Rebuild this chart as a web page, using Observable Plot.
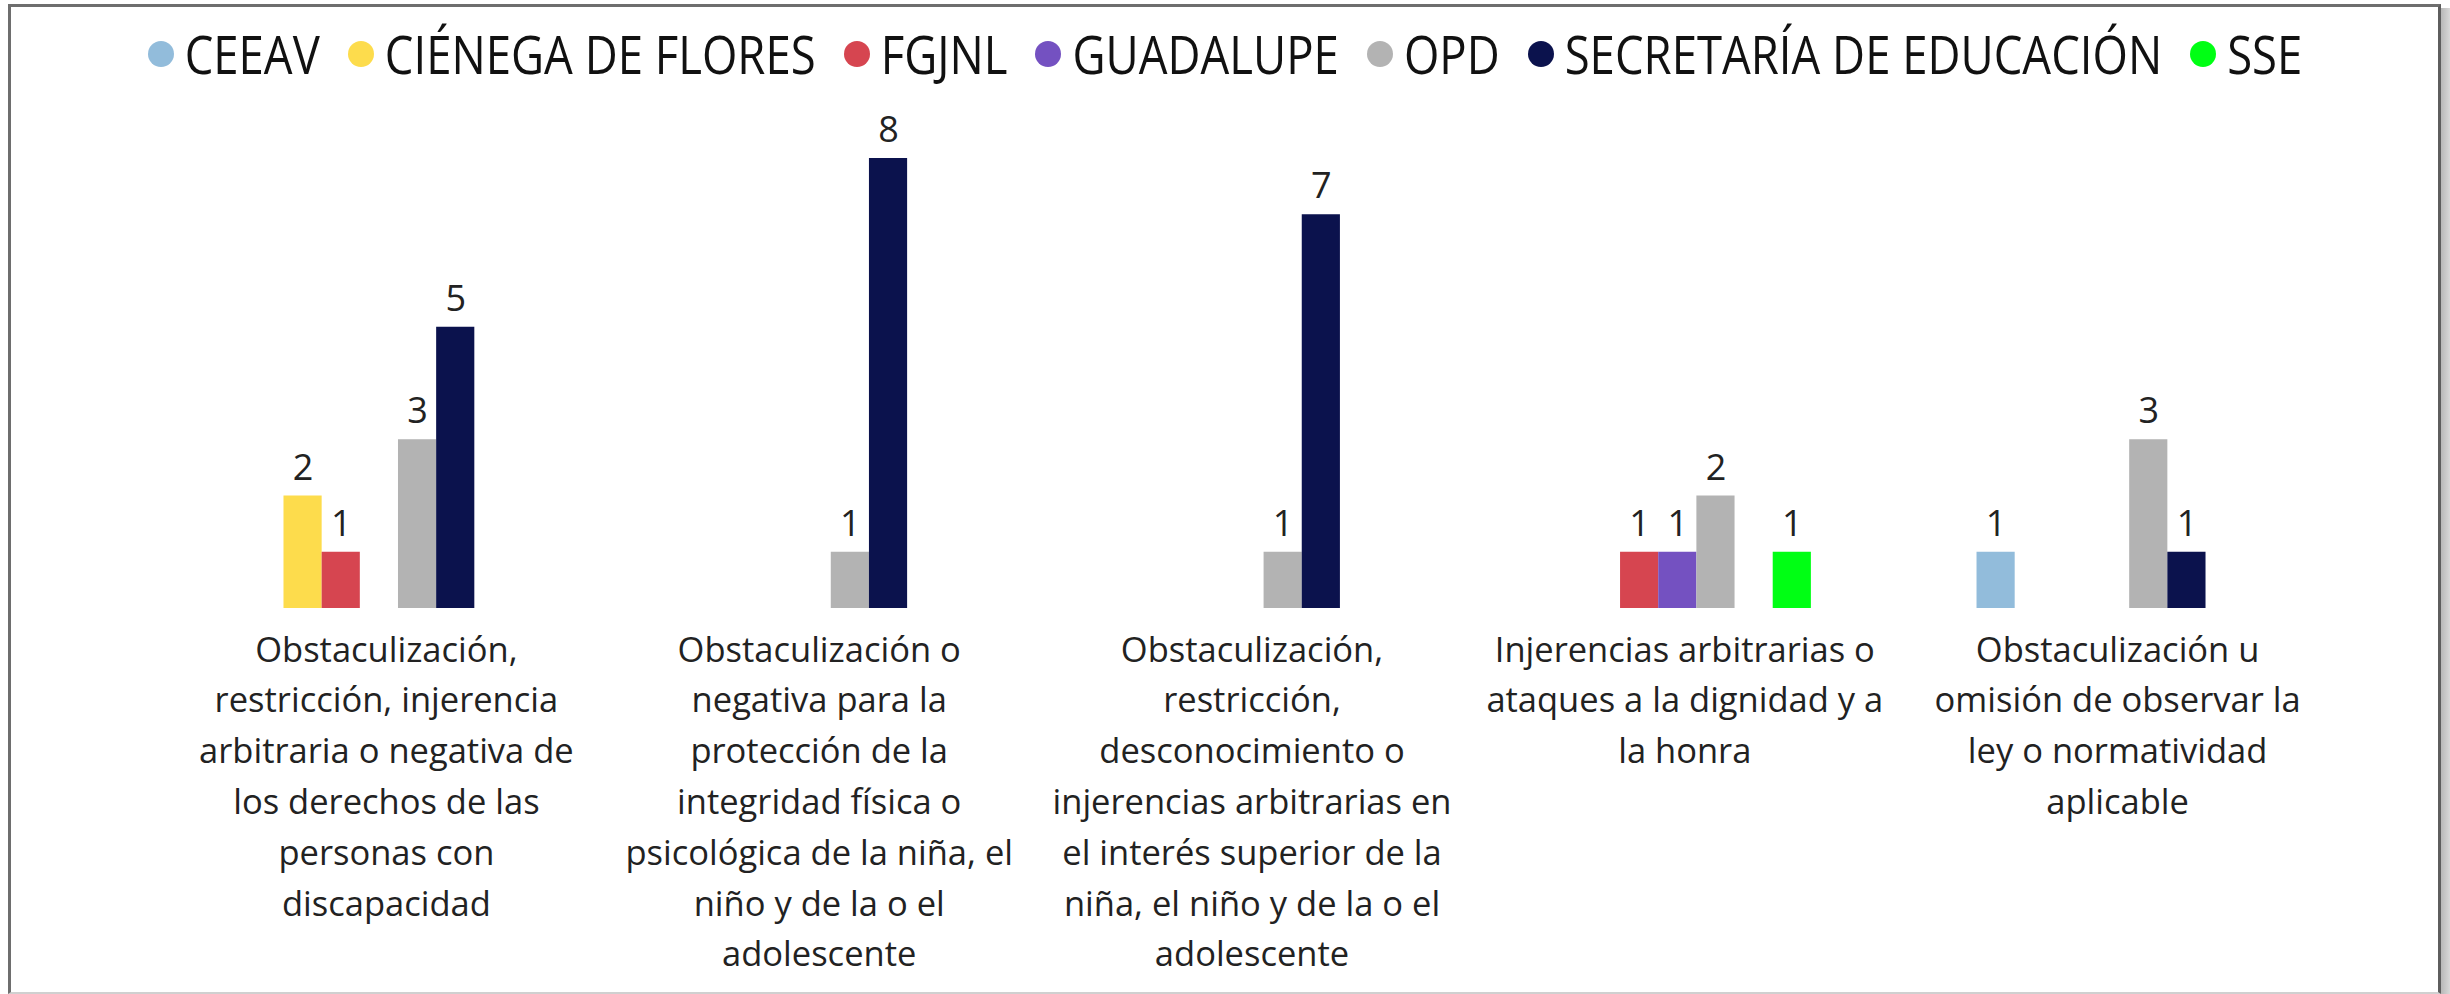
<!DOCTYPE html>
<html>
<head>
<meta charset="utf-8">
<script src="https://cdn.jsdelivr.net/npm/d3@7"></script>
<script src="https://cdn.jsdelivr.net/npm/@observablehq/plot@0.6"></script>
<style>
  html, body { margin: 0; padding: 0; background: #fff; }
  body { width: 2450px; height: 994px; position: relative; overflow: hidden; font-family: "Open Sans", sans-serif; }
  #legend { position: absolute; left: 0; top: 4px; width: 2450px; height: 100px; display: flex; justify-content: center; align-items: center; }
  .item { display: flex; align-items: center; margin: 0 14px; }
  .sw { width: 26px; height: 26px; border-radius: 50%; margin-right: 11px; }
  .lab { font-size: 45.5px; color: #111; transform: scaleY(1.15); line-height: 1; white-space: nowrap; }
  #chart { position: absolute; left: 0; top: 100px; }
  #frame { position: absolute; left: 8px; top: 4px; width: 2427px; height: 985px; border-left: 3px solid #6e6e6e; border-top: 3px solid #6e6e6e; border-right: 3px solid #5e5e5e; border-bottom: 2px solid #d0d0d0; pointer-events: none; }
  #shadow { position: absolute; left: 2441px; top: 8px; width: 9px; height: 986px; background: linear-gradient(to right, #b8b8b8, #d8d8d8); }
</style>
</head>
<body>
<div id="legend"></div>
<div id="chart"></div>
<div id="frame"></div>
<div id="shadow"></div>
<script>
// Categories (x groups) and their wrapped tick labels
const categories = [
  "Obstaculización, restricción, injerencia arbitraria o negativa de los derechos de las personas con discapacidad",
  "Obstaculización o negativa para la protección de la integridad física o psicológica de la niña, el niño y de la o el adolescente",
  "Obstaculización, restricción, desconocimiento o injerencias arbitrarias en el interés superior de la niña, el niño y de la o el adolescente",
  "Injerencias arbitrarias o ataques a la dignidad y a la honra",
  "Obstaculización u omisión de observar la ley o normatividad aplicable"
];
const categoryLabels = [
  "Obstaculización,\nrestricción, injerencia\narbitraria o negativa de\nlos derechos de las\npersonas con\ndiscapacidad",
  "Obstaculización o\nnegativa para la\nprotección de la\nintegridad física o\npsicológica de la niña, el\nniño y de la o el\nadolescente",
  "Obstaculización,\nrestricción,\ndesconocimiento o\ninjerencias arbitrarias en\nel interés superior de la\nniña, el niño y de la o el\nadolescente",
  "Injerencias arbitrarias o\nataques a la dignidad y a\nla honra",
  "Obstaculización u\nomisión de observar la\nley o normatividad\naplicable"
];

// Series
const seriesNames = ["CEEAV", "CIÉNEGA DE FLORES", "FGJNL", "GUADALUPE", "OPD", "SECRETARÍA DE EDUCACIÓN", "SSE"];
const seriesColors = ["#92bcdb", "#fddc4c", "#d64550", "#7451c1", "#b3b3b3", "#0b124d", "#00ff14"];

// Values per series, one per category (null = no bar)
const ceeav      = [null, null, null, null, 1];
const cienega    = [2, null, null, null, null];
const fgjnl      = [1, null, null, 1, null];
const guadalupe  = [null, null, null, 1, null];
const opd        = [3, 1, 1, 2, 3];
const secretaria = [5, 8, 7, null, 1];
const sse        = [null, null, null, 1, null];

const seriesValues = [ceeav, cienega, fgjnl, guadalupe, opd, secretaria, sse];

const rows = [];
seriesNames.forEach((s, si) => {
  seriesValues[si].forEach((v, ci) => {
    if (v != null) rows.push({cat: categories[ci], series: s, value: v});
  });
});
const labelRows = categories.map((c, i) => ({cat: c, label: categoryLabels[i]}));

// Legend
const legend = document.getElementById("legend");
seriesNames.forEach((s, i) => {
  const it = document.createElement("div");
  it.className = "item";
  const sw = document.createElement("div");
  sw.className = "sw";
  sw.style.background = seriesColors[i];
  const lab = document.createElement("span");
  lab.className = "lab";
  lab.textContent = s;
  it.appendChild(sw); it.appendChild(lab);
  legend.appendChild(it);
});

const chart = Plot.plot({
  width: 2450,
  height: 894,
  marginLeft: 162.5,
  marginRight: 123.5,
  marginTop: 58,
  marginBottom: 386,
  style: {fontFamily: "'Open Sans', sans-serif", background: "transparent"},
  fx: {domain: categories, padding: 0, axis: null, round: false},
  x: {domain: seriesNames, paddingInner: 0, paddingOuter: 2.17, axis: null, round: false},
  y: {domain: [0, 8], axis: null},
  color: {domain: seriesNames, range: seriesColors},
  marks: [
    Plot.barY(rows, {fx: "cat", x: "series", y: "value", fill: "series", inset: 0}),
    Plot.text(rows, {fx: "cat", x: "series", y: "value", text: d => String(d.value), dy: -28, fontSize: 36, fill: "#222", lineAnchor: "middle"}),
    Plot.text(labelRows, {fx: "cat", text: "label", frameAnchor: "bottom", lineAnchor: "top", dx: 7, dy: 17, fontSize: 34.5, lineHeight: 1.473, fill: "#222"})
  ]
});
document.getElementById("chart").appendChild(chart);
</script>
</body>
</html>
